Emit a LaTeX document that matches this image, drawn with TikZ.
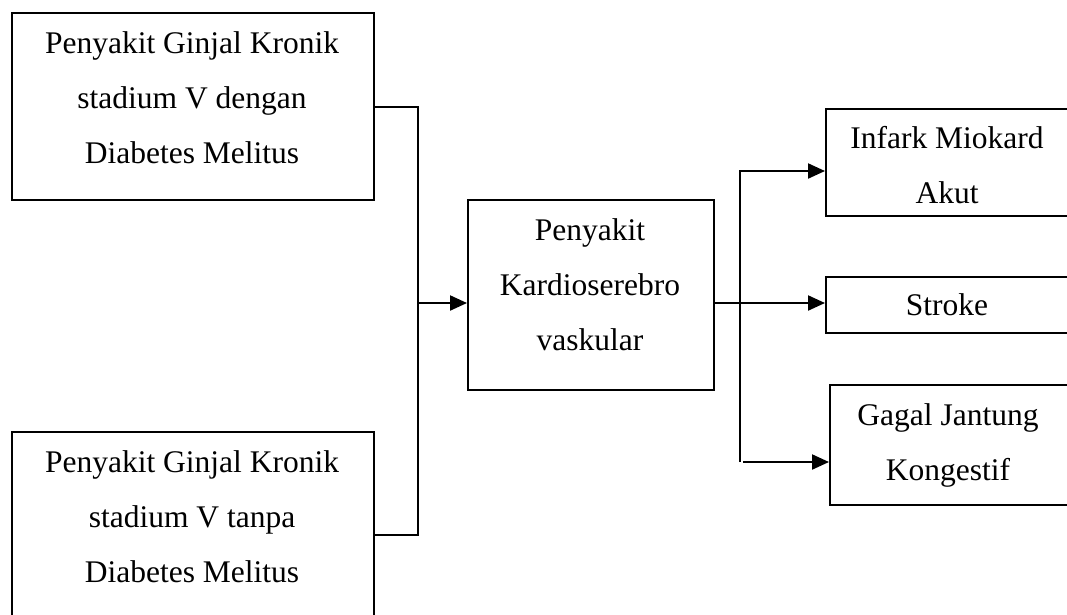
\documentclass[tikz,border=0pt]{standalone}
\usepackage{fontspec}
\setmainfont{Liberation Serif}
\usetikzlibrary{arrows.meta}
\begin{document}
\begin{tikzpicture}[x=1pt,y=-1pt,
  box/.style={draw, line width=2.2pt, inner sep=0pt, anchor=north west},
  txt/.style={anchor=north, align=center, inner sep=0pt, font=\fontsize{31.5}{55}\selectfont},
  conn/.style={line width=2.2pt},
  thin/.style={line width=1.2pt},
  arr/.style={line width=2.2pt, -{Triangle[length=17pt,width=15pt]}}]
\useasboundingbox (0,0) rectangle (1067,614);
\fill[white] (0,0) rectangle (1067,614);
\clip (0,0) rectangle (1067,614);
% boxes
\node[box, minimum width=362pt, minimum height=187pt] (b1) at (11,12) {};
\node[box, minimum width=362pt, minimum height=206pt] (b2) at (11,431) {};
\node[box, minimum width=246pt, minimum height=190pt] (mid) at (467,199) {};
\node[box, minimum width=245pt, minimum height=107pt] (inf) at (825,108) {};
\node[box, minimum width=245pt, minimum height=56pt] (str) at (825,276) {};
\node[box, minimum width=241pt, minimum height=120pt] (gag) at (829,384) {};
% texts
\node[txt] (t1) at (192,23) {\rule{0pt}{30pt}Penyakit Ginjal Kronik\\stadium V dengan\\Diabetes Melitus};
\node[txt] (t2) at (192,442) {\rule{0pt}{30pt}Penyakit Ginjal Kronik\\stadium V tanpa\\Diabetes Melitus};
\node[txt] (tm) at (590,210) {\rule{0pt}{30pt}Penyakit\\Kardioserebro\\vaskular};
\node[txt] (ti) at (947,118) {\rule{0pt}{30pt}Infark Miokard\\Akut};
\node[txt] (ts) at (947,285) {\rule{0pt}{30pt}Stroke};
\node[txt] (tg) at (948,395) {\rule{0pt}{30pt}Gagal Jantung\\Kongestif};
% left connectors
\coordinate (j1) at (418,303);
\draw[conn] (b1.east) -| (j1) |- (b2.east);
\draw[arr] (j1) -- (j1 -| mid.west);
% right connectors
\coordinate (s) at (740,303);
\coordinate (top) at (740,171);
\coordinate (bot) at (740,462);
\coordinate (bot2) at (743,462);
\draw[thin] (mid.east |- s) -- (s);
\draw[arr] (s) -- (s -| str.west);
\draw[arr] (bot) -- (top) -- (top -| inf.west);
\draw[arr] (bot2) -- (bot2 -| gag.west);
\end{tikzpicture}
\end{document}
